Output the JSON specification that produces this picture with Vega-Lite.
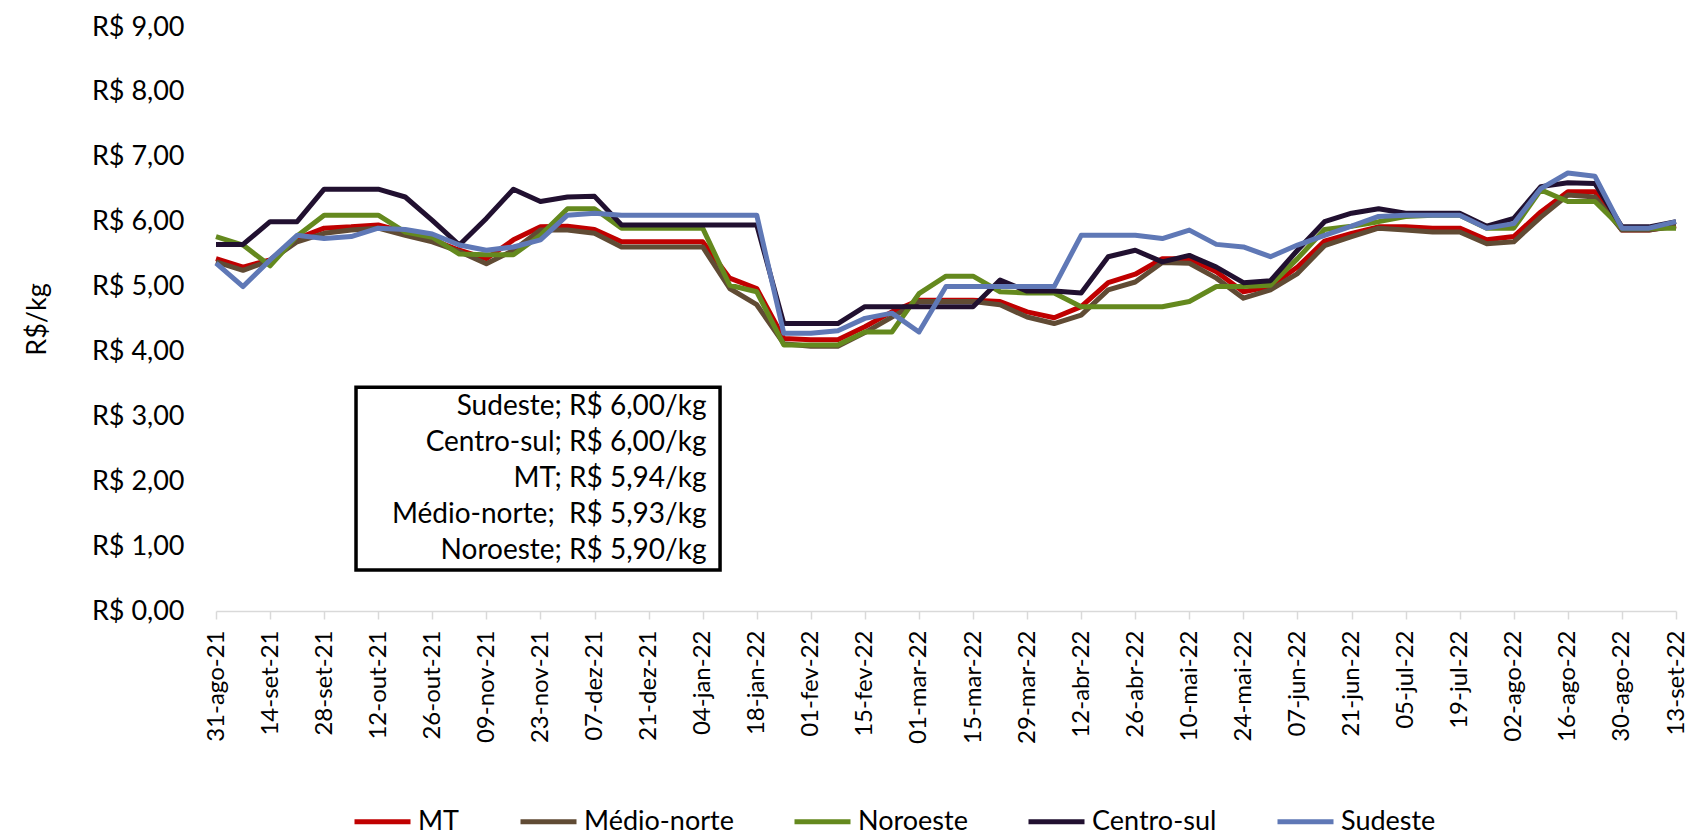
{
  "$schema": "https://vega.github.io/schema/vega-lite/v6.json",
  "width": 1460,
  "height": 584,
  "autosize": "none",
  "padding": {"left": 216, "top": 27, "right": 20, "bottom": 226},
  "background": "white",
  "config": {
    "font": "Lato",
    "view": {"stroke": null},
    "locale": {
      "time": {
        "dateTime": "%A, %e de %B de %Y. %X",
        "date": "%d/%m/%Y",
        "time": "%H:%M:%S",
        "periods": ["AM", "PM"],
        "days": ["domingo", "segunda", "terça", "quarta", "quinta", "sexta", "sábado"],
        "shortDays": ["dom", "seg", "ter", "qua", "qui", "sex", "sáb"],
        "months": ["janeiro", "fevereiro", "março", "abril", "maio", "junho", "julho", "agosto", "setembro", "outubro", "novembro", "dezembro"],
        "shortMonths": ["jan", "fev", "mar", "abr", "mai", "jun", "jul", "ago", "set", "out", "nov", "dez"]
      }
    }
  },
  "layer": [
    {
      "data": {
        "values": [
          {"semana": "2021-08-31", "MT": 5.43, "Médio-norte": 5.38, "Noroeste": 5.77, "Centro-sul": 5.65, "Sudeste": 5.36},
          {"semana": "2021-09-07", "MT": 5.30, "Médio-norte": 5.25, "Noroeste": 5.64, "Centro-sul": 5.65, "Sudeste": 5.00},
          {"semana": "2021-09-14", "MT": 5.41, "Médio-norte": 5.40, "Noroeste": 5.32, "Centro-sul": 6.00, "Sudeste": 5.41},
          {"semana": "2021-09-21", "MT": 5.74, "Médio-norte": 5.69, "Noroeste": 5.78, "Centro-sul": 6.00, "Sudeste": 5.79},
          {"semana": "2021-09-28", "MT": 5.90, "Médio-norte": 5.82, "Noroeste": 6.10, "Centro-sul": 6.50, "Sudeste": 5.74},
          {"semana": "2021-10-05", "MT": 5.92, "Médio-norte": 5.87, "Noroeste": 6.10, "Centro-sul": 6.50, "Sudeste": 5.77},
          {"semana": "2021-10-12", "MT": 5.95, "Médio-norte": 5.90, "Noroeste": 6.10, "Centro-sul": 6.50, "Sudeste": 5.90},
          {"semana": "2021-10-19", "MT": 5.84, "Médio-norte": 5.79, "Noroeste": 5.84, "Centro-sul": 6.38, "Sudeste": 5.88},
          {"semana": "2021-10-26", "MT": 5.72, "Médio-norte": 5.69, "Noroeste": 5.76, "Centro-sul": 6.02, "Sudeste": 5.81},
          {"semana": "2021-11-02", "MT": 5.56, "Médio-norte": 5.54, "Noroeste": 5.50, "Centro-sul": 5.64, "Sudeste": 5.64},
          {"semana": "2021-11-09", "MT": 5.43, "Médio-norte": 5.35, "Noroeste": 5.49, "Centro-sul": 6.05, "Sudeste": 5.56},
          {"semana": "2021-11-16", "MT": 5.72, "Médio-norte": 5.56, "Noroeste": 5.49, "Centro-sul": 6.50, "Sudeste": 5.61},
          {"semana": "2021-11-23", "MT": 5.92, "Médio-norte": 5.87, "Noroeste": 5.79, "Centro-sul": 6.31, "Sudeste": 5.72},
          {"semana": "2021-11-30", "MT": 5.93, "Médio-norte": 5.87, "Noroeste": 6.20, "Centro-sul": 6.38, "Sudeste": 6.10},
          {"semana": "2021-12-07", "MT": 5.88, "Médio-norte": 5.82, "Noroeste": 6.20, "Centro-sul": 6.39, "Sudeste": 6.13},
          {"semana": "2021-12-14", "MT": 5.69, "Médio-norte": 5.61, "Noroeste": 5.90, "Centro-sul": 5.95, "Sudeste": 6.10},
          {"semana": "2021-12-21", "MT": 5.69, "Médio-norte": 5.61, "Noroeste": 5.90, "Centro-sul": 5.95, "Sudeste": 6.10},
          {"semana": "2021-12-28", "MT": 5.69, "Médio-norte": 5.61, "Noroeste": 5.90, "Centro-sul": 5.95, "Sudeste": 6.10},
          {"semana": "2022-01-04", "MT": 5.69, "Médio-norte": 5.61, "Noroeste": 5.90, "Centro-sul": 5.95, "Sudeste": 6.10},
          {"semana": "2022-01-11", "MT": 5.13, "Médio-norte": 4.97, "Noroeste": 5.02, "Centro-sul": 5.95, "Sudeste": 6.10},
          {"semana": "2022-01-18", "MT": 4.97, "Médio-norte": 4.72, "Noroeste": 4.92, "Centro-sul": 5.95, "Sudeste": 6.10},
          {"semana": "2022-01-25", "MT": 4.20, "Médio-norte": 4.12, "Noroeste": 4.10, "Centro-sul": 4.43, "Sudeste": 4.28},
          {"semana": "2022-02-01", "MT": 4.18, "Médio-norte": 4.08, "Noroeste": 4.10, "Centro-sul": 4.43, "Sudeste": 4.28},
          {"semana": "2022-02-08", "MT": 4.18, "Médio-norte": 4.08, "Noroeste": 4.10, "Centro-sul": 4.43, "Sudeste": 4.32},
          {"semana": "2022-02-15", "MT": 4.38, "Médio-norte": 4.29, "Noroeste": 4.30, "Centro-sul": 4.69, "Sudeste": 4.51},
          {"semana": "2022-02-22", "MT": 4.61, "Médio-norte": 4.53, "Noroeste": 4.30, "Centro-sul": 4.69, "Sudeste": 4.59},
          {"semana": "2022-03-01", "MT": 4.79, "Médio-norte": 4.77, "Noroeste": 4.89, "Centro-sul": 4.69, "Sudeste": 4.30},
          {"semana": "2022-03-08", "MT": 4.79, "Médio-norte": 4.77, "Noroeste": 5.16, "Centro-sul": 4.69, "Sudeste": 5.00},
          {"semana": "2022-03-15", "MT": 4.79, "Médio-norte": 4.77, "Noroeste": 5.16, "Centro-sul": 4.69, "Sudeste": 5.00},
          {"semana": "2022-03-22", "MT": 4.77, "Médio-norte": 4.72, "Noroeste": 4.92, "Centro-sul": 5.10, "Sudeste": 5.00},
          {"semana": "2022-03-29", "MT": 4.61, "Médio-norte": 4.53, "Noroeste": 4.90, "Centro-sul": 4.93, "Sudeste": 5.00},
          {"semana": "2022-04-05", "MT": 4.52, "Médio-norte": 4.43, "Noroeste": 4.90, "Centro-sul": 4.93, "Sudeste": 5.00},
          {"semana": "2022-04-12", "MT": 4.69, "Médio-norte": 4.56, "Noroeste": 4.69, "Centro-sul": 4.90, "Sudeste": 5.79},
          {"semana": "2022-04-19", "MT": 5.06, "Médio-norte": 4.95, "Noroeste": 4.69, "Centro-sul": 5.46, "Sudeste": 5.79},
          {"semana": "2022-04-26", "MT": 5.19, "Médio-norte": 5.07, "Noroeste": 4.69, "Centro-sul": 5.56, "Sudeste": 5.79},
          {"semana": "2022-05-03", "MT": 5.43, "Médio-norte": 5.37, "Noroeste": 4.69, "Centro-sul": 5.38, "Sudeste": 5.74},
          {"semana": "2022-05-10", "MT": 5.43, "Médio-norte": 5.36, "Noroeste": 4.77, "Centro-sul": 5.48, "Sudeste": 5.87},
          {"semana": "2022-05-17", "MT": 5.23, "Médio-norte": 5.13, "Noroeste": 5.00, "Centro-sul": 5.30, "Sudeste": 5.65},
          {"semana": "2022-05-24", "MT": 4.92, "Médio-norte": 4.82, "Noroeste": 5.00, "Centro-sul": 5.06, "Sudeste": 5.61},
          {"semana": "2022-05-31", "MT": 5.00, "Médio-norte": 4.95, "Noroeste": 5.02, "Centro-sul": 5.09, "Sudeste": 5.46},
          {"semana": "2022-06-07", "MT": 5.30, "Médio-norte": 5.20, "Noroeste": 5.43, "Centro-sul": 5.56, "Sudeste": 5.64},
          {"semana": "2022-06-14", "MT": 5.70, "Médio-norte": 5.63, "Noroeste": 5.88, "Centro-sul": 6.00, "Sudeste": 5.79},
          {"semana": "2022-06-21", "MT": 5.82, "Médio-norte": 5.77, "Noroeste": 5.93, "Centro-sul": 6.13, "Sudeste": 5.93},
          {"semana": "2022-06-28", "MT": 5.92, "Médio-norte": 5.90, "Noroeste": 6.00, "Centro-sul": 6.20, "Sudeste": 6.08},
          {"semana": "2022-07-05", "MT": 5.92, "Médio-norte": 5.87, "Noroeste": 6.08, "Centro-sul": 6.13, "Sudeste": 6.10},
          {"semana": "2022-07-12", "MT": 5.90, "Médio-norte": 5.84, "Noroeste": 6.10, "Centro-sul": 6.13, "Sudeste": 6.10},
          {"semana": "2022-07-19", "MT": 5.90, "Médio-norte": 5.84, "Noroeste": 6.10, "Centro-sul": 6.13, "Sudeste": 6.10},
          {"semana": "2022-07-26", "MT": 5.72, "Médio-norte": 5.66, "Noroeste": 5.90, "Centro-sul": 5.93, "Sudeste": 5.90},
          {"semana": "2022-08-02", "MT": 5.77, "Médio-norte": 5.69, "Noroeste": 5.90, "Centro-sul": 6.05, "Sudeste": 5.97},
          {"semana": "2022-08-09", "MT": 6.15, "Médio-norte": 6.07, "Noroeste": 6.49, "Centro-sul": 6.54, "Sudeste": 6.51},
          {"semana": "2022-08-16", "MT": 6.46, "Médio-norte": 6.41, "Noroeste": 6.31, "Centro-sul": 6.60, "Sudeste": 6.75},
          {"semana": "2022-08-23", "MT": 6.46, "Médio-norte": 6.38, "Noroeste": 6.31, "Centro-sul": 6.59, "Sudeste": 6.70},
          {"semana": "2022-08-30", "MT": 5.87, "Médio-norte": 5.87, "Noroeste": 5.90, "Centro-sul": 5.92, "Sudeste": 5.90},
          {"semana": "2022-09-06", "MT": 5.87, "Médio-norte": 5.87, "Noroeste": 5.90, "Centro-sul": 5.92, "Sudeste": 5.90},
          {"semana": "2022-09-13", "MT": 5.94, "Médio-norte": 5.93, "Noroeste": 5.90, "Centro-sul": 6.00, "Sudeste": 6.00}
        ]
      },
      "transform": [
        {"fold": ["MT", "Médio-norte", "Noroeste", "Centro-sul", "Sudeste"], "as": ["regiao", "preco"]}
      ],
      "mark": {"type": "line", "strokeWidth": 5, "strokeJoin": "round"},
      "encoding": {
        "x": {
          "field": "semana",
          "type": "temporal",
          "scale": {
            "type": "utc",
            "nice": false,
            "domain": [
              {"year": 2021, "month": 8, "date": 31, "utc": true},
              {"year": 2022, "month": 9, "date": 13, "utc": true}
            ]
          },
          "axis": {
            "title": null,
            "grid": false,
            "format": "%d-%b-%y",
            "values": [
              {"year": 2021, "month": 8, "date": 31, "utc": true},
              {"year": 2021, "month": 9, "date": 14, "utc": true},
              {"year": 2021, "month": 9, "date": 28, "utc": true},
              {"year": 2021, "month": 10, "date": 12, "utc": true},
              {"year": 2021, "month": 10, "date": 26, "utc": true},
              {"year": 2021, "month": 11, "date": 9, "utc": true},
              {"year": 2021, "month": 11, "date": 23, "utc": true},
              {"year": 2021, "month": 12, "date": 7, "utc": true},
              {"year": 2021, "month": 12, "date": 21, "utc": true},
              {"year": 2022, "month": 1, "date": 4, "utc": true},
              {"year": 2022, "month": 1, "date": 18, "utc": true},
              {"year": 2022, "month": 2, "date": 1, "utc": true},
              {"year": 2022, "month": 2, "date": 15, "utc": true},
              {"year": 2022, "month": 3, "date": 1, "utc": true},
              {"year": 2022, "month": 3, "date": 15, "utc": true},
              {"year": 2022, "month": 3, "date": 29, "utc": true},
              {"year": 2022, "month": 4, "date": 12, "utc": true},
              {"year": 2022, "month": 4, "date": 26, "utc": true},
              {"year": 2022, "month": 5, "date": 10, "utc": true},
              {"year": 2022, "month": 5, "date": 24, "utc": true},
              {"year": 2022, "month": 6, "date": 7, "utc": true},
              {"year": 2022, "month": 6, "date": 21, "utc": true},
              {"year": 2022, "month": 7, "date": 5, "utc": true},
              {"year": 2022, "month": 7, "date": 19, "utc": true},
              {"year": 2022, "month": 8, "date": 2, "utc": true},
              {"year": 2022, "month": 8, "date": 16, "utc": true},
              {"year": 2022, "month": 8, "date": 30, "utc": true},
              {"year": 2022, "month": 9, "date": 13, "utc": true}
            ],
            "labelAngle": -90,
            "labelAlign": "right",
            "labelBaseline": "middle",
            "labelFontSize": 24,
            "labelColor": "#000000",
            "labelPadding": 11,
            "labelOverlap": false,
            "labelFlush": false,
            "domainColor": "#D9D9D9",
            "domainWidth": 1.5,
            "tickColor": "#D9D9D9",
            "tickWidth": 1.5,
            "tickSize": 8
          }
        },
        "y": {
          "field": "preco",
          "type": "quantitative",
          "scale": {"domain": [0, 9], "nice": false, "zero": true},
          "axis": {
            "title": "R$/kg",
            "titleFontSize": 27,
            "titleFontWeight": "normal",
            "titleColor": "#000000",
            "titlePadding": 40,
            "values": [0, 1, 2, 3, 4, 5, 6, 7, 8, 9],
            "labelExpr": "'R$ ' + replace(format(datum.value, '.2f'), '.', ',')",
            "labelFontSize": 27,
            "labelColor": "#000000",
            "labelPadding": 32,
            "domain": false,
            "ticks": false,
            "grid": false
          }
        },
        "color": {
          "field": "regiao",
          "type": "nominal",
          "scale": {
            "domain": ["MT", "Médio-norte", "Noroeste", "Centro-sul", "Sudeste"],
            "range": ["#C00000", "#604B34", "#64891E", "#211030", "#5F78B6"]
          },
          "legend": {
            "title": null,
            "orient": "none",
            "legendX": 136,
            "legendY": 764,
            "direction": "horizontal",
            "symbolType": "stroke",
            "symbolSize": 3136,
            "symbolStrokeWidth": 5,
            "labelFontSize": 27,
            "labelColor": "#000000",
            "labelOffset": 5,
            "columnPadding": 50,
            "padding": 0,
            "labelLimit": 0
          }
        }
      }
    },
    {
      "data": {"values": [{}]},
      "mark": {"type": "rect", "fill": "white", "stroke": "black", "strokeWidth": 3.5},
      "encoding": {
        "x": {"datum": {"year": 2021, "month": 10, "date": 6, "hours": 6, "utc": true}, "type": "temporal"},
        "x2": {"datum": {"year": 2022, "month": 1, "date": 8, "hours": 12, "utc": true}},
        "y": {"datum": 3.45, "type": "quantitative"},
        "y2": {"datum": 0.63}
      }
    },
    {
      "data": {"values": [{}]},
      "mark": {
        "type": "text",
        "align": "right",
        "baseline": "middle",
        "fontSize": 28,
        "lineHeight": 36,
        "color": "#000000",
        "text": ["Sudeste; R$ 6,00/kg", "Centro-sul; R$ 6,00/kg", "MT; R$ 5,94/kg", "Médio-norte;\u00a0 R$ 5,93/kg", "Noroeste; R$ 5,90/kg"]
      },
      "encoding": {
        "x": {"datum": {"year": 2022, "month": 1, "date": 5, "utc": true}, "type": "temporal"},
        "y": {"datum": 3.14, "type": "quantitative"}
      }
    }
  ]
}
